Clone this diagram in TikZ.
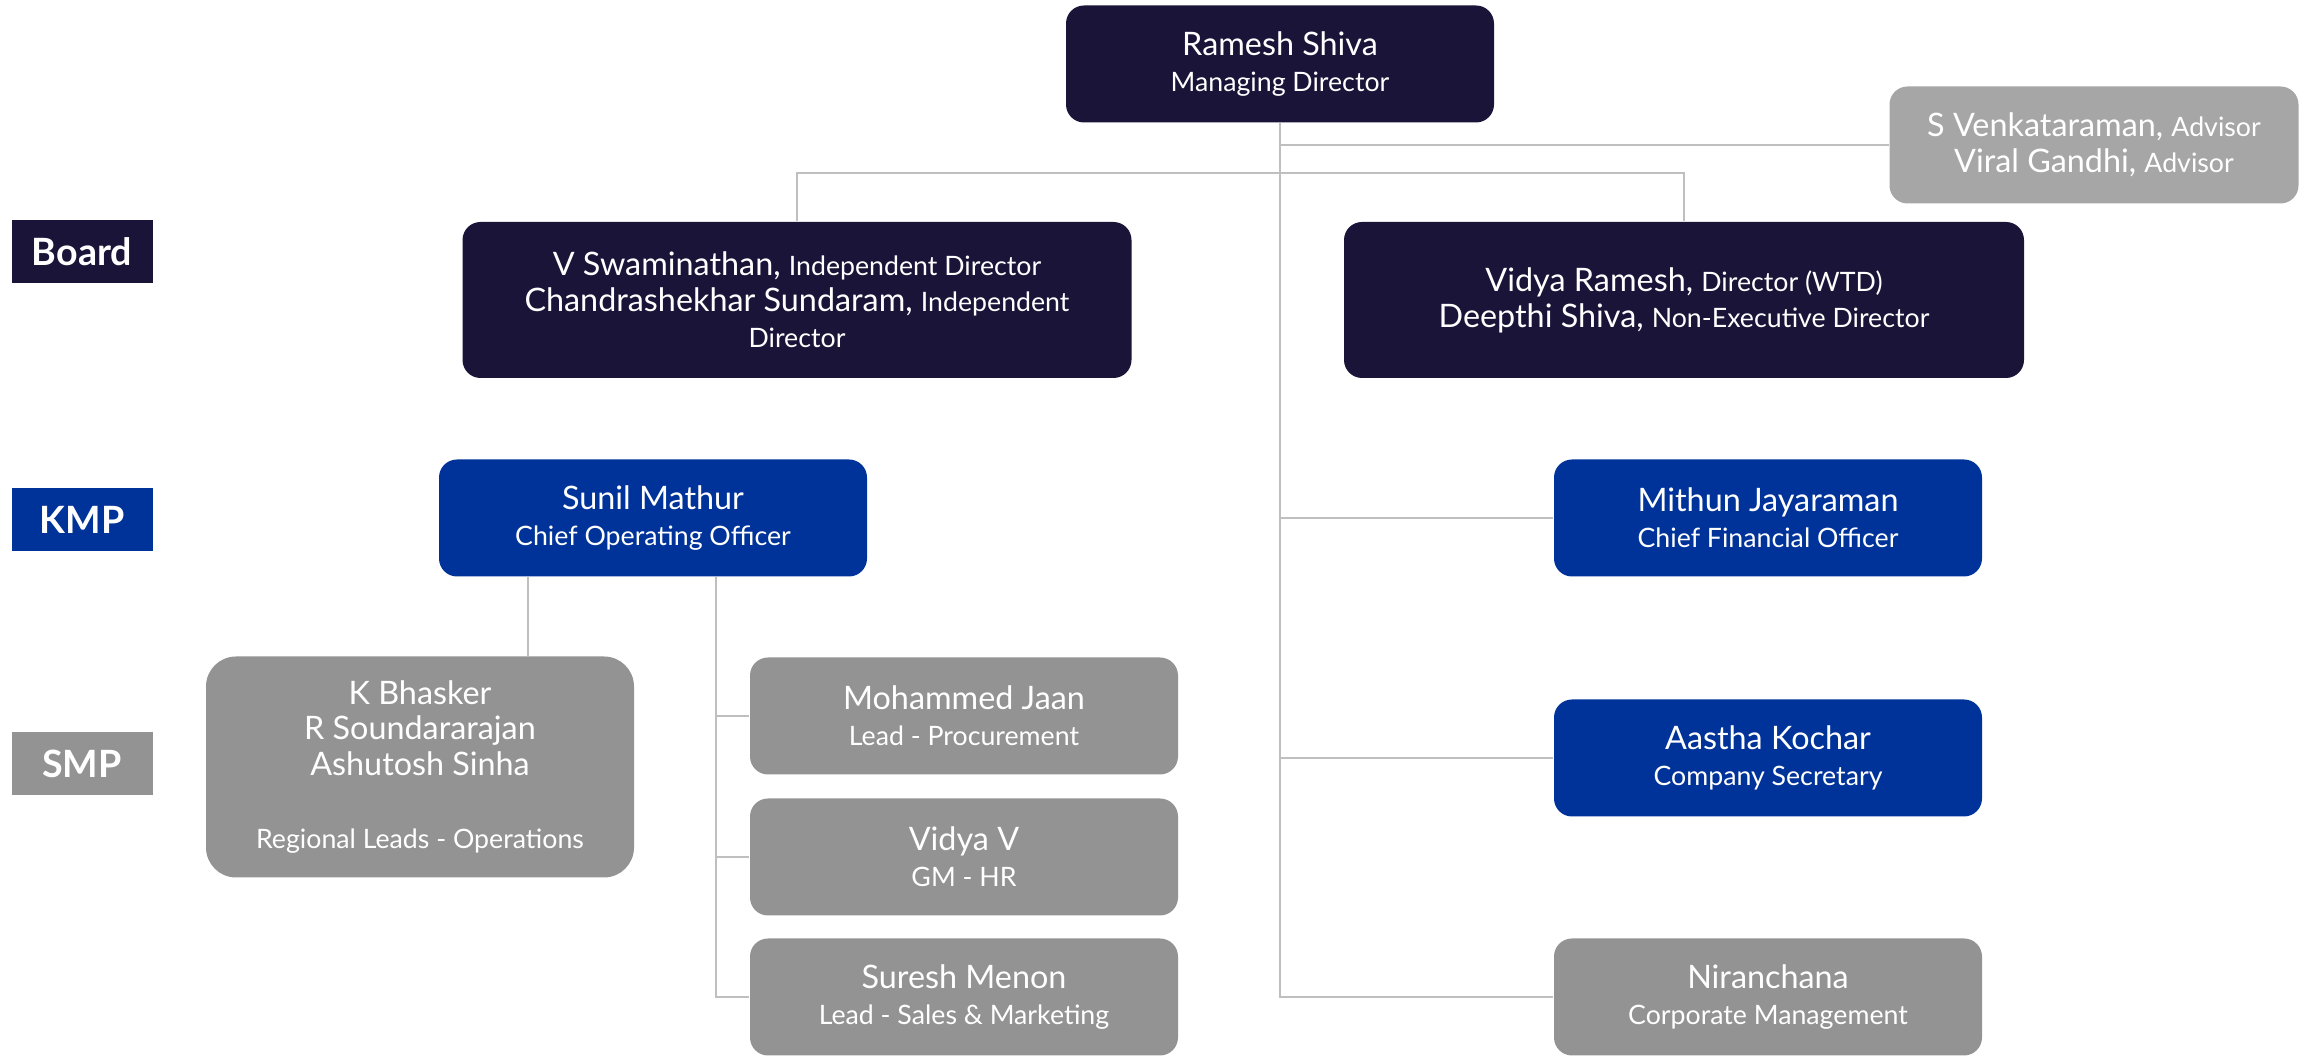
\documentclass[tikz,border=0pt]{standalone}
\usepackage{fontspec}
\setmainfont{Lato}
\definecolor{navy}{HTML}{1A1438}
\definecolor{kmpblue}{HTML}{003399}
\definecolor{smpgray}{HTML}{939393}
\definecolor{advgray}{HTML}{A6A6A6}
\definecolor{linegray}{HTML}{BFBFBF}
\newcommand{\role}[1]{{\fontsize{7.6}{10.2}\selectfont #1}}

\begin{document}
\begin{tikzpicture}[
  box/.style={rounded corners=0.18cm, text=white, align=center, inner sep=2pt,
    minimum width=4.28cm, minimum height=1.17cm, font=\fontsize{9.2}{10.2}\selectfont},
  board/.style={box, fill=navy},
  kmp/.style={box, fill=kmpblue},
  smp/.style={box, fill=smpgray},
  tag/.style={fill=#1, text=white, inner sep=0pt, minimum width=1.41cm,
    minimum height=0.63cm, font=\bfseries\fontsize{10.7}{12}\selectfont},
  link/.style={draw=linegray, line width=0.6pt}
]
\useasboundingbox (0,0) rectangle (23.05,10.60);

% level tags
\draw (0.82,8.08) node[tag=navy] (tboard) {Board};
\draw (0.82,5.40) node[tag=kmpblue] (tkmp) {KMP};
\draw (0.82,2.96) node[tag=smpgray] (tsmp) {SMP};

% board
\draw (12.80,9.96) node[board] (md) {Ramesh Shiva\\\role{Managing Director}};
\draw (20.94,9.15) node[box, fill=advgray, minimum width=4.09cm]
  (adv) {S Venkataraman, \role{Advisor}\\Viral Gandhi, \role{Advisor}};
\draw (7.97,7.60) node[board, minimum width=6.69cm, minimum height=1.56cm]
  (indep) {V Swaminathan, \role{Independent Director}\\
  Chandrashekhar Sundaram, \role{Independent}\\\role{Director}};
\draw (16.84,7.60) node[board, minimum width=6.80cm, minimum height=1.56cm]
  (wtd) {Vidya Ramesh, \role{Director (WTD)}\\
  Deepthi Shiva, \role{Non-Executive Director}};

% kmp
\draw (6.53,5.42) node[kmp] (coo) {Sunil Mathur\\\role{Chief Operating Officer}};
\draw (17.68,5.42) node[kmp] (cfo) {Mithun Jayaraman\\\role{Chief Financial Officer}};
\draw (17.68,3.02) node[kmp] (cs) {Aastha Kochar\\\role{Company Secretary}};

% smp
\draw (4.20,2.93) node[smp, minimum height=2.21cm, rounded corners=0.3cm]
  (regional) {K Bhasker\\R Soundararajan\\Ashutosh Sinha\\[10.6pt]
  \role{Regional Leads - Operations}};
\draw (9.64,3.44) node[smp] (proc) {Mohammed Jaan\\\role{Lead - Procurement}};
\draw (9.64,2.03) node[smp] (hr) {Vidya V\\\role{GM - HR}};
\draw (9.64,0.63) node[smp] (sales) {Suresh Menon\\\role{Lead - Sales \& Marketing}};
\draw (17.68,0.63) node[smp] (corp) {Niranchana\\\role{Corporate Management}};

% connectors
\coordinate (bar) at (12.79,8.87);
\coordinate (rl) at (5.28,4.84);
\coordinate (sj) at (7.16,4.84);

\draw[link] (md.south) -- (md.south |- corp.west) -- (corp.west);
\draw[link] (md.south |- adv.west) -- (adv.west);
\draw[link] (indep.north) |- (bar) -| (wtd.north);
\draw[link] (md.south |- cfo.west) -- (cfo.west);
\draw[link] (md.south |- cs.west) -- (cs.west);

\draw[link] (coo.south -| rl) -- (rl |- regional.north);
\draw[link] (coo.south -| sj) |- (sales.west);
\draw[link] (sj |- proc.west) -- (proc.west);
\draw[link] (sj |- hr.west) -- (hr.west);
\end{tikzpicture}
\end{document}
